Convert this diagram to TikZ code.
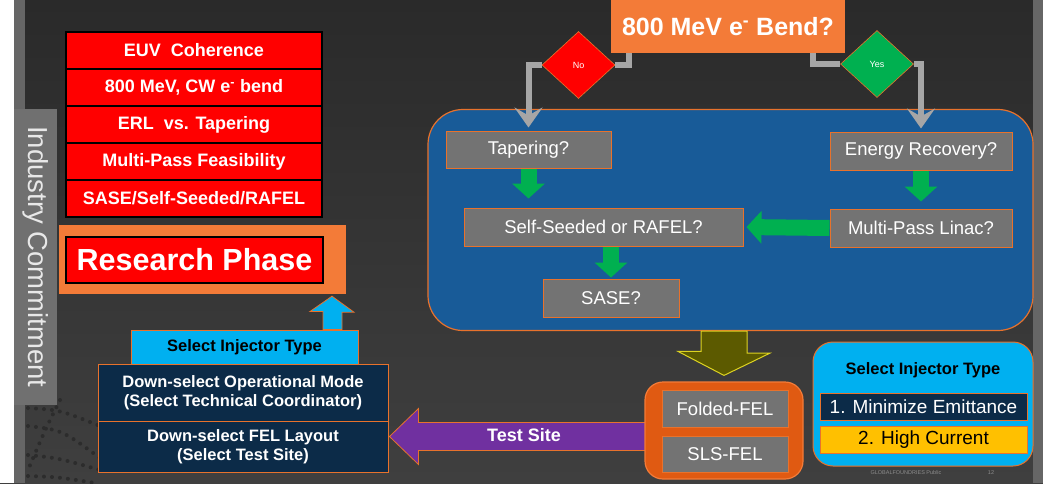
\documentclass[tikz,border=0pt]{standalone}
\usepackage{fontspec}
\setmainfont{Liberation Sans}
\usepackage{tikz}
\usetikzlibrary{shapes.geometric,arrows.meta}

\definecolor{bgtop}{HTML}{2A2A2A}
\definecolor{bgbot}{HTML}{3F3F3F}
\definecolor{stripgray}{HTML}{666666}
\definecolor{tabgray}{HTML}{707070}
\definecolor{tabtext}{HTML}{E8E8E8}
\definecolor{brandorange}{HTML}{F37B38}
\definecolor{edgeorange}{HTML}{E8722C}
\definecolor{deeporange}{HTML}{E05A12}
\definecolor{panelblue}{HTML}{185B98}
\definecolor{boxgray}{HTML}{737373}
\definecolor{navy}{HTML}{0C2B48}
\definecolor{skyblue}{HTML}{00B0F0}
\definecolor{okgreen}{HTML}{00B050}
\definecolor{arrowgray}{HTML}{A6A6A6}
\definecolor{oliveshade}{HTML}{5C5A00}
\definecolor{purplearr}{HTML}{7030A0}
\definecolor{gold}{HTML}{FFC000}
\definecolor{globegray}{HTML}{2C2C2C}
\definecolor{footgray}{HTML}{8C8C8C}

\begin{document}
\begin{tikzpicture}[x=1pt,y=-1pt,
    redrow/.style={draw=black, line width=1.2pt, fill=red, text=white, inner sep=0pt,
      font=\bfseries\fontsize{18}{20}\selectfont, minimum width=256pt, minimum height=37pt},
    graybox/.style={draw=edgeorange, line width=1pt, fill=boxgray, text=white, inner sep=0pt,
      font=\fontsize{18.5}{20}\selectfont},
    navybox/.style={draw=edgeorange, line width=1pt, fill=navy, text=white, inner sep=0pt, align=center,
      font=\bfseries\fontsize{16.5}{18.5}\selectfont, minimum width=290pt},
    choice/.style={diamond, draw=edgeorange, line width=0.6pt, text=white, inner sep=0pt,
      minimum width=73pt, minimum height=67pt, font=\fontsize{9}{10}\selectfont},
    grayline/.style={draw=arrowgray, line width=6pt},
    grayarrow/.style={grayline, -{Stealth[length=20pt,width=28pt,inset=8pt]}},
    greenarrow/.style={draw=okgreen, line width=16pt, -{Triangle[length=15pt,width=32pt]}},
    globedot/.style={draw=globegray, line width=4pt, line cap=round, dash pattern=on 0pt off 8pt}]

  % Background
  \useasboundingbox (0,0) rectangle (1043,483);
  \shade[top color=bgtop, bottom color=bgbot] (0,0) rectangle (1043,483);
  \fill[white] (0,0) rectangle (14,483);
  \fill[stripgray] (14,0) rectangle (25,483);
  \fill[stripgray] (1033,0) rectangle (1043,483);
  \begin{scope}
    \clip (25,395) rectangle (98,483);
    \draw[globedot] (28,408) .. controls (60,410) .. (100,426);
    \draw[globedot] (28,426) .. controls (62,430) .. (100,458);
    \draw[globedot] (28,455) .. controls (58,458) .. (100,470);
    \draw[globedot] (28,476) .. controls (58,477) .. (95,483);
    \draw[globedot] (60,400) .. controls (45,430) .. (28,470);
  \end{scope}

  % Left column
  \node[fill=tabgray, rotate=-90, text=tabtext, inner sep=0pt, minimum width=296pt, minimum height=43pt,
    font=\fontsize{27.5}{30}\selectfont] (industry) at (35.5,257) {Industry Commitment};

  \node[redrow] (euv) at (194,50.5) {EUV\ \ Coherence};
  \node[redrow] (bend) at (194,87.5) {800 MeV, CW e\textsuperscript{-} bend};
  \node[redrow] (erl) at (194,124.5) {ERL\ \ vs. Tapering};
  \node[redrow] (multipass) at (194,161.5) {Multi-Pass Feasibility};
  \node[redrow] (sasemode) at (194,198.5) {SASE/Self-Seeded/RAFEL};

  \node[fill=brandorange, minimum width=287pt, minimum height=69pt] (resbg) at (202.5,259.5) {};
  \node[redrow, minimum width=257pt, minimum height=46pt, font=\bfseries\fontsize{30.5}{33}\selectfont]
    (research) at (194.5,260) {Research Phase};

  \node[draw=edgeorange, line width=1pt, fill=skyblue, inner sep=0pt, minimum width=227pt, minimum height=34pt,
    font=\bfseries\fontsize{16.5}{18}\selectfont] (injector) at (244.5,347) {Select Injector Type};
  \node[navybox, minimum height=57pt] (opmode) at (243,392.5) {Down-select Operational Mode\\(Select Technical Coordinator)};
  \node[navybox, minimum height=51pt] (layout) at (243,446.5) {Down-select FEL Layout\\(Select Test Site)};

  % block arrow up to the research phase
  \draw[edgeorange, fill=skyblue, line width=0.8pt] (resbg.south -| 332,0) ++(0,2)
    -- ++(22,16) -- ++(-12,0) -- (injector.north -| 342,0) -- (injector.north -| 323,0) -- ++(0,-18) -- ++(-13,0) -- cycle;

  % Decision tree
  \node[draw=edgeorange, line width=1.2pt, fill=panelblue, rounded corners=35pt,
    minimum width=605pt, minimum height=221pt] (panel) at (730.5,220) {};
  \node[fill=brandorange, text=white, minimum width=234pt, minimum height=53pt,
    font=\bfseries\fontsize{25}{27}\selectfont] (bendq) at (728,26.5) {800 MeV e\textsuperscript{-} Bend?};

  \node[graybox, minimum width=165pt, minimum height=37pt] (taper) at (528.5,149.5) {Tapering?};
  \node[graybox, minimum width=182pt, minimum height=38pt] (energy) at (921,151) {Energy Recovery?};
  \node[graybox, minimum width=279pt, minimum height=38pt] (seeded) at (603.5,227) {Self-Seeded or RAFEL?};
  \node[graybox, minimum width=182pt, minimum height=38pt] (linac) at (921,228) {Multi-Pass Linac?};
  \node[graybox, minimum width=136pt, minimum height=38pt] (sase) at (611,298) {SASE?};

  \node[choice, fill=red] (no) at (578.5,65) {No};
  \node[choice, fill=okgreen] (yes) at (877,64) {Yes};

  % Arrows
  \draw[grayline] ([xshift=18pt]bendq.south west) |- (no.east);
  \draw[grayarrow, shorten >=3pt] (no.west) -| (taper.north);
  \draw[grayline] ([xshift=-32pt]bendq.south east) |- (yes.west);
  \draw[grayarrow, shorten >=3pt] (yes.east) -| (energy.north);

  \draw[greenarrow, shorten >=9pt] (taper.south) -- (taper.south |- seeded.north);
  \draw[greenarrow, shorten >=7pt] (energy.south) -- (linac.north);
  \draw[greenarrow, shorten >=1pt] (sase.north |- seeded.south) -- (sase.north);
  \draw[greenarrow, shorten >=3pt] (linac.west) -- (seeded.east);

  % Test site arrow, drawn under the FEL box
  \draw[edgeorange, fill=purplearr, line width=0.8pt] (layout.east) ++(1,-10)
    -- ++(29,-28) -- ++(0,14) -- ++(230,0) -- ++(0,28) -- ++(-230,0) -- ++(0,14) -- cycle;
  \node[text=white, font=\bfseries\fontsize{18}{20}\selectfont] (testsite) at (524,435) {Test Site};

  \node[draw=brandorange, line width=1.2pt, fill=deeporange, rounded corners=18pt,
    minimum width=158pt, minimum height=97pt] (felbox) at (724,430.5) {};
  \node[graybox, minimum width=126pt, minimum height=37pt] (folded) at (725,408.5) {Folded-FEL};
  \node[graybox, minimum width=126pt, minimum height=36pt] (slsfel) at (725,454) {SLS-FEL};

  % Olive arrow from the panel down to the FEL box
  \draw[yellow!85!black, fill=oliveshade, line width=1pt] (felbox.north) ++(0,-6)
    -- ++(-46,-24) -- ++(23,0) -- (panel.south -| 701,0) -- (panel.south -| 747,0) -- ++(0,22) -- ++(23,0) -- cycle;

  % Injector type options
  \node[draw=edgeorange, line width=1pt, fill=skyblue, rounded corners=20pt,
    minimum width=220pt, minimum height=124pt] (injbox) at (923,404) {};
  \node[font=\bfseries\fontsize{16.5}{18}\selectfont] (injtitle) at (923,370) {Select Injector Type};
  \node[draw=edgeorange, line width=1pt, fill=navy, text=white, inner sep=0pt, minimum width=207pt, minimum height=27pt,
    font=\fontsize{19}{21}\selectfont] (emit) at (923.5,406.5) {1. Minimize Emittance};
  \node[draw=edgeorange, line width=1pt, fill=gold, inner sep=0pt, minimum width=207pt, minimum height=27pt,
    font=\fontsize{19}{21}\selectfont] (current) at (923.5,439.5) {2. High Current};

  \node[text=footgray, font=\fontsize{5.5}{6}\selectfont] (foot) at (906,473) {GLOBALFOUNDRIES Public};
  \node[text=footgray, font=\fontsize{5.5}{6}\selectfont] (pageno) at (991,473) {12};
\end{tikzpicture}
\end{document}
